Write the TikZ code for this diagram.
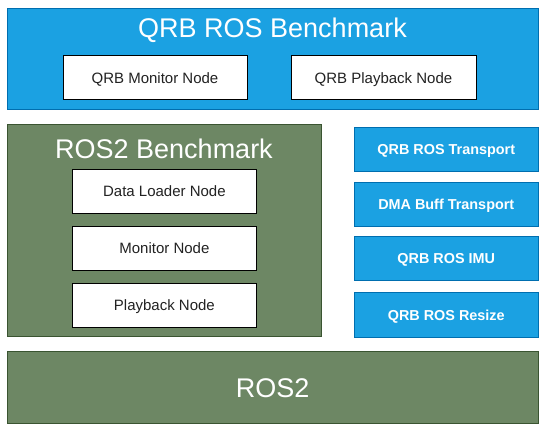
\documentclass[tikz,border=0pt]{standalone}
\usepackage{fontspec}
\setmainfont{Liberation Sans}
\definecolor{bfill}{HTML}{1BA1E2}
\definecolor{bline}{HTML}{006EAF}
\definecolor{gfill}{HTML}{6D8764}
\definecolor{gline}{HTML}{3A5431}
\definecolor{tgray}{HTML}{222222}
\begin{document}
\begin{tikzpicture}[x=1pt,y=-1pt,
  bluebox/.style={draw=bline,fill=bfill,line width=1pt},
  greenbox/.style={draw=gline,fill=gfill,line width=1pt},
  whitebox/.style={draw=black,fill=white,line width=1pt},
  wtext/.style={text=tgray,font=\fontsize{15}{18}\selectfont,text height=10.7pt,text depth=0pt,inner sep=0pt},
  svcbox/.style={draw=bline,fill=bfill,line width=1pt},
  stext/.style={text=white,font=\fontsize{14.4}{17}\selectfont\bfseries,text height=10.3pt,text depth=0pt,inner sep=0pt},
  bigtitle/.style={text=white,font=\fontsize{27}{32}\selectfont,inner sep=0pt,anchor=base}]
\useasboundingbox (0,0) rectangle (550,430);
% top blue
\draw[bluebox] (7,9) rectangle (538.5,110);
\node[bigtitle] (qrbtitle) at (272.5,37.7) {QRB ROS Benchmark};
\draw[whitebox] (63,56) rectangle node[wtext] (qmon) {QRB Monitor Node} (247,100);
\draw[whitebox] (291,56) rectangle node[wtext] (qplay) {QRB Playback Node} (476,100);
% green benchmark
\draw[greenbox] (7,125) rectangle (321,337);
\node[bigtitle] (rostitle) at (164,159) {ROS2 Benchmark};
\draw[whitebox] (72.3,169.5) rectangle node[wtext] (dload) {Data Loader Node} (256.5,213.3);
\draw[whitebox] (72.3,226.3) rectangle node[wtext] (mon) {Monitor Node} (256.5,270.3);
\draw[whitebox] (72.3,283.3) rectangle node[wtext] (play) {Playback Node} (256.5,327.3);
% right services
\draw[svcbox] (354,127.3) rectangle node[stext] (trans) {QRB ROS Transport} (538.5,171.7);
\draw[svcbox] (354,182.3) rectangle node[stext] (dma) {DMA Buff Transport} (538.5,226.5);
\draw[svcbox] (354,236.3) rectangle node[stext] (imu) {QRB ROS IMU} (538.5,280.5);
\draw[svcbox] (354,293) rectangle node[stext] (resize) {QRB ROS Resize} (538.5,337.3);
% bottom ROS2
\draw[greenbox] (7,352) rectangle (538.5,424);
\node[bigtitle] (ros2) at (272.7,397.3) {ROS2};
\end{tikzpicture}
\end{document}
